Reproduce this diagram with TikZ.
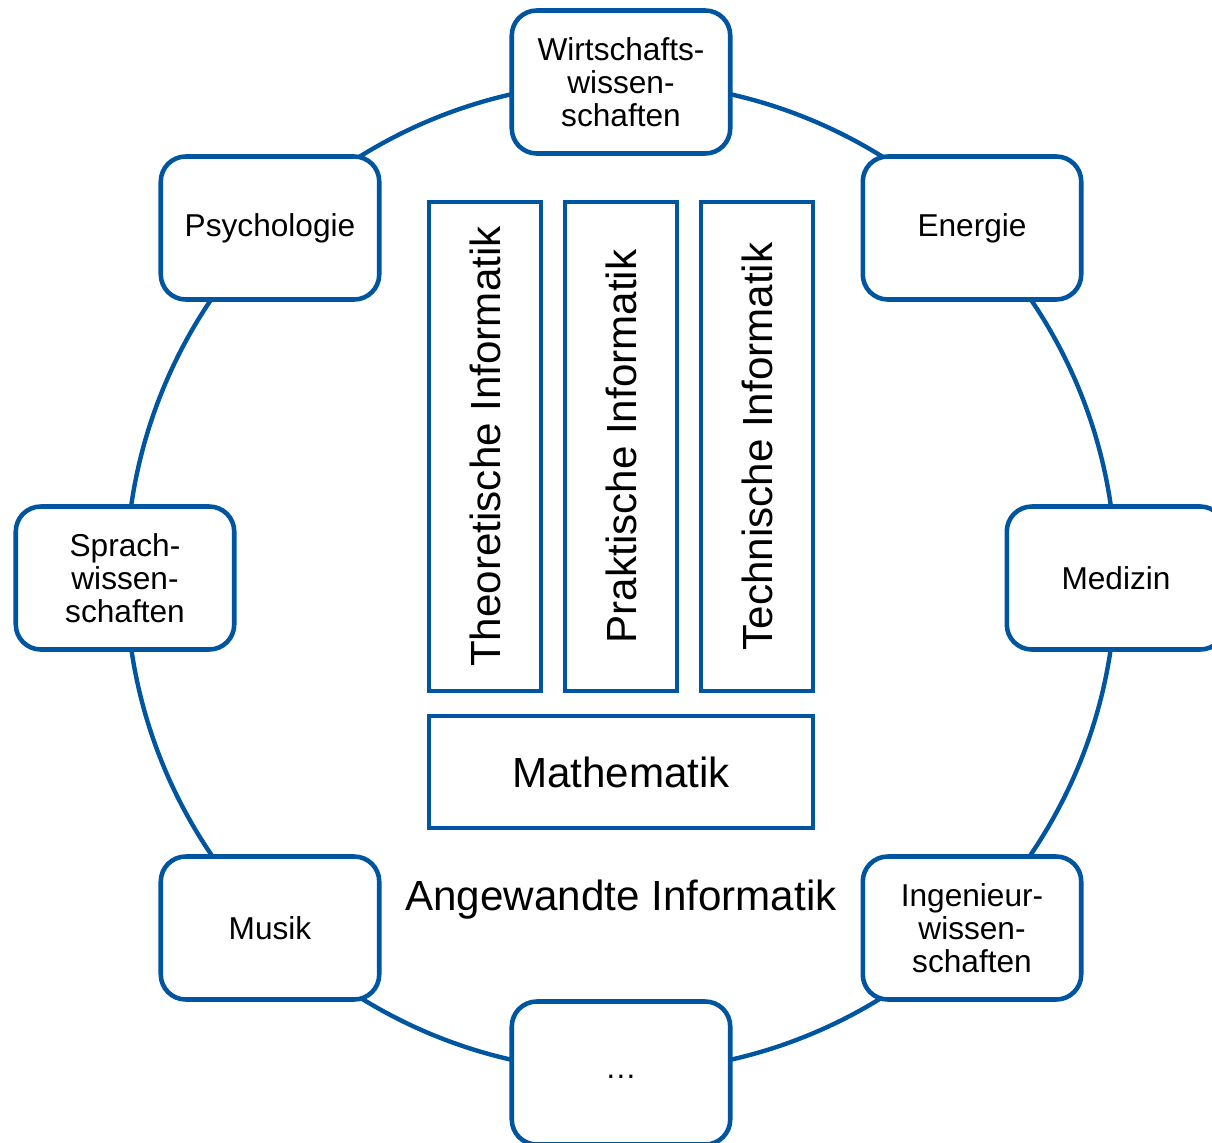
\documentclass[tikz,border=0pt]{standalone}
\usepackage{fontspec}
\setmainfont{Liberation Sans}
\definecolor{uniblue}{HTML}{0055A0}

\begin{document}
\begin{tikzpicture}[x=0.02cm, y=-0.02cm,
    field/.style={draw=uniblue, line width=2.6pt, fill=white, rounded corners=0.5cm,
      minimum width=4.37cm, minimum height=2.86cm, align=center,
      font=\fontsize{18}{18.7}\selectfont},
    pillar/.style={draw=uniblue, line width=2pt, minimum width=9.78cm,
      minimum height=2.24cm, rotate=90, font=\fontsize{24}{28}\selectfont}]
      \useasboundingbox (0, 0) rectangle (1212, 1142);
      \draw[uniblue, line width=2.5pt] (621, 577) circle (9.9cm);

      \node[field] (wiwi) at (621, 82) {Wirtschafts-\\wissen-\\schaften};
      \node[field] (psych) at (270, 228) {Psychologie};
      \node[field] (energie) at (972, 228) {Energie};
      \node[field] (sprach) at (125, 578) {Sprach-\\wissen-\\schaften};
      \node[field] (medizin) at (1116, 578) {Medizin};
      \node[field] (musik) at (270, 928) {Musik};
      \node[field] (ing) at (972, 928) {Ingenieur-\\wissen-\\schaften};
      \node[field] (dots) at (621, 1073) {\raisebox{-0.2cm}{\dots}};

      \node[pillar] (theo) at (485, 446.5) {Theoretische Informatik};
      \node[pillar] (prak) at (621, 446.5) {Praktische Informatik};
      \node[pillar] (tech) at (757, 446.5) {Technische Informatik};
      \node[draw=uniblue, line width=2pt, minimum width=7.68cm, minimum height=2.24cm,
        font=\fontsize{24}{28}\selectfont] (mathe) at (621, 772) {Mathematik};

      \node[font=\fontsize{24}{28}\selectfont] (angew) at (621, 900) {Angewandte Informatik};
    \end{tikzpicture}
\end{document}
